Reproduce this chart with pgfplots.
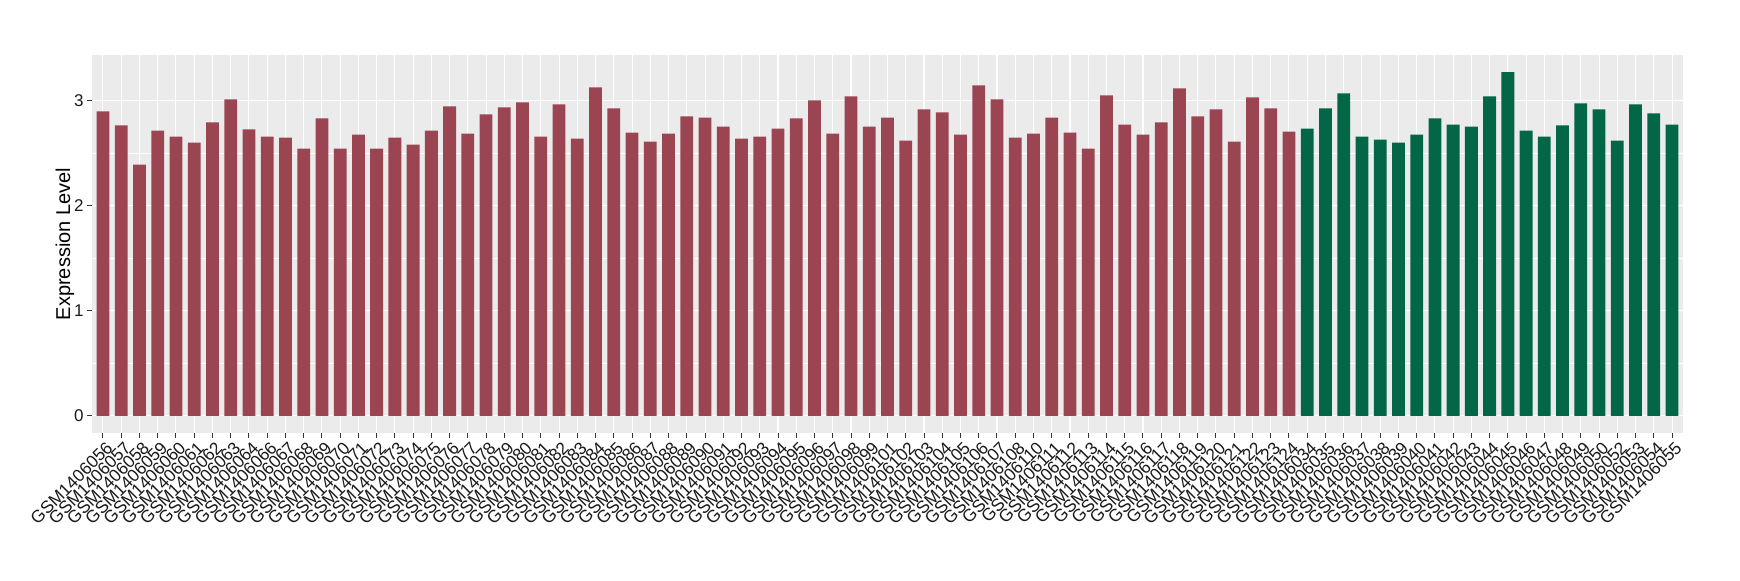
\documentclass[border=0pt]{standalone}
\usepackage{pgfplots}
\pgfplotsset{compat=1.18}
\usepackage{pgfplotstable}
\usepackage{fontspec}
\setmainfont{Liberation Sans}
\definecolor{ggbg}{HTML}{EBEBEB}
\definecolor{ticktext}{HTML}{1A1A1A}
\definecolor{grey20}{HTML}{333333}
\definecolor{barred}{HTML}{9B4452}
\definecolor{bargreen}{HTML}{036646}
\pgfplotstableread{
x v
1 2.898
2 2.764
3 2.391
4 2.716
5 2.659
6 2.601
7 2.793
8 3.012
9 2.726
10 2.659
11 2.649
12 2.544
13 2.831
14 2.544
15 2.678
16 2.544
17 2.649
18 2.582
19 2.716
20 2.946
21 2.687
22 2.869
23 2.936
24 2.984
25 2.659
26 2.965
27 2.640
28 3.127
29 2.926
30 2.697
31 2.611
32 2.687
33 2.850
34 2.840
35 2.754
36 2.640
37 2.659
38 2.735
39 2.831
40 3.003
41 2.687
42 3.041
43 2.754
44 2.840
45 2.620
46 2.917
47 2.888
48 2.678
49 3.146
50 3.012
51 2.649
52 2.687
53 2.840
54 2.697
55 2.544
56 3.051
57 2.773
58 2.678
59 2.793
60 3.118
61 2.850
62 2.917
63 2.611
64 3.032
65 2.926
66 2.706
}\redtab
\pgfplotstableread{
x v
67 2.735
68 2.926
69 3.070
70 2.659
71 2.630
72 2.601
73 2.678
74 2.831
75 2.773
76 2.754
77 3.041
78 3.271
79 2.716
80 2.659
81 2.764
82 2.974
83 2.917
84 2.620
85 2.965
86 2.879
87 2.773
}\greentab
\begin{document}
\begin{tikzpicture}
\path[use as bounding box] (-46pt,-73.5pt) rectangle (824pt,216.5pt);
\begin{axis}[
  at={(0pt,0pt)}, anchor=south west,
  width=795.5pt, height=189pt, scale only axis,
  xmin=0.4, xmax=87.6, ymin=-0.1636, ymax=3.435,
  axis background/.style={fill=ggbg},
  axis line style={draw=none},
  xtick={1,...,87},
  xticklabels={GSM1406056,GSM1406057,GSM1406058,GSM1406059,GSM1406060,GSM1406061,GSM1406062,GSM1406063,GSM1406064,GSM1406066,GSM1406067,GSM1406068,GSM1406069,GSM1406070,GSM1406071,GSM1406072,GSM1406073,GSM1406074,GSM1406075,GSM1406076,GSM1406077,GSM1406078,GSM1406079,GSM1406080,GSM1406081,GSM1406082,GSM1406083,GSM1406084,GSM1406085,GSM1406086,GSM1406087,GSM1406088,GSM1406089,GSM1406090,GSM1406091,GSM1406092,GSM1406093,GSM1406094,GSM1406095,GSM1406096,GSM1406097,GSM1406098,GSM1406099,GSM1406101,GSM1406102,GSM1406103,GSM1406104,GSM1406105,GSM1406106,GSM1406107,GSM1406108,GSM1406110,GSM1406111,GSM1406112,GSM1406113,GSM1406114,GSM1406115,GSM1406116,GSM1406117,GSM1406118,GSM1406119,GSM1406120,GSM1406121,GSM1406122,GSM1406123,GSM1406124,GSM1406034,GSM1406035,GSM1406036,GSM1406037,GSM1406038,GSM1406039,GSM1406040,GSM1406041,GSM1406042,GSM1406043,GSM1406044,GSM1406045,GSM1406046,GSM1406047,GSM1406048,GSM1406049,GSM1406050,GSM1406052,GSM1406053,GSM1406054,GSM1406055},
  ytick={0,1,2,3},
  minor ytick={0.5,1.5,2.5},
  grid=both,
  major grid style={white, line width=0.55pt},
  minor grid style={white, line width=0.3pt},
  tick pos=left,
  tick align=outside,
  major tick length=2.5pt,
  minor tick length=0pt,
  tick style={grey20, line width=0.5pt},
  /pgf/number format/assume math mode=true,
  x tick label style={font=\fontsize{8.7}{10}\selectfont, text=ticktext, rotate=45, anchor=north east, inner sep=1pt, xshift=1pt, yshift=-0.5pt},
  y tick label style={font=\fontsize{8.5}{10}\selectfont, text=ticktext, inner sep=1.5pt},
  ylabel={Expression Level},
  ylabel style={font=\fontsize{10}{12}\selectfont, at={([xshift=-13.5pt]axis description cs:0,0.5)}, anchor=center},
]
\addplot[ybar, bar width=0.7, bar shift=0pt, fill=barred, draw=none] table[x=x, y=v] {\redtab};
\addplot[ybar, bar width=0.7, bar shift=0pt, fill=bargreen, draw=none] table[x=x, y=v] {\greentab};
\end{axis}
\end{tikzpicture}
\end{document}
